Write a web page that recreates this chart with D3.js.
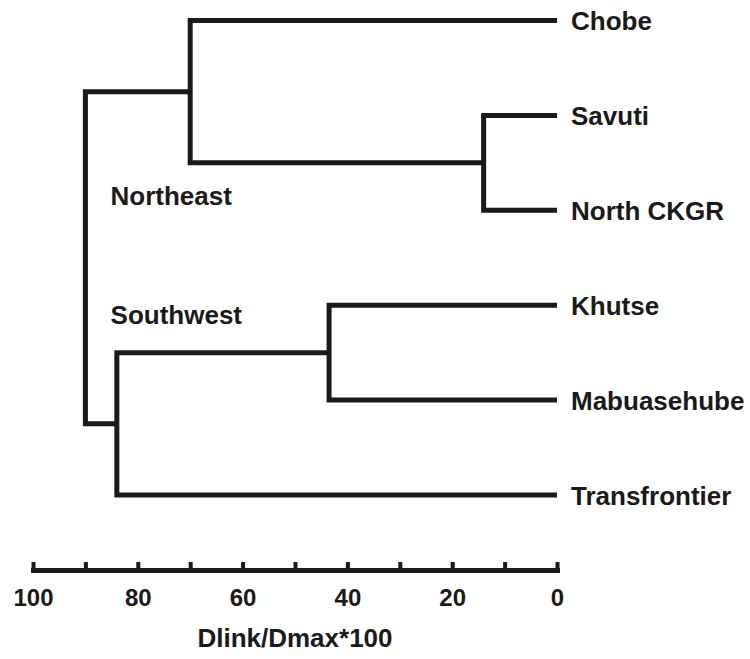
<!DOCTYPE html>
<html>
<head>
<meta charset="utf-8">
<script src="https://cdn.jsdelivr.net/npm/d3@7"></script>
<style>
	body { margin: 0; background: #fff; }
	svg text { font-family: "Liberation Sans", Arial, sans-serif; font-weight: bold; fill: #1a1a1a; }
</style>
</head>
<body>
<svg id="chart" width="750" height="659"></svg>
<script>
// leaves, top to bottom
var leaves = ["Chobe", "Savuti", "North CKGR", "Khutse", "Mabuasehube", "Transfrontier"];

// clusters: name, the two children, linkage distance (Dlink/Dmax*100)
var clusterNames = ["SN", "NE", "KM", "SW", "root"];
var clusterChildren = [["Savuti", "North CKGR"], ["Chobe", "SN"], ["Khutse", "Mabuasehube"], ["KM", "Transfrontier"], ["NE", "SW"]];
var clusterHeights = [14, 70, 43.5, 84, 90];

var groupLabels = ["Northeast", "Southwest"];

var tickValues = [100, 90, 80, 70, 60, 50, 40, 30, 20, 10, 0];
var tickLabels = [100, 80, 60, 40, 20, 0];
var axisTitle = "Dlink/Dmax*100";

var svg = d3.select("#chart");
var ink = "#1a1a1a";

var x = d3.scaleLinear().domain([100, 0]).range([33, 557]);
var y = d3.scalePoint().domain(leaves).range([20.5, 495]);

// build nested tree out of the cluster table
function build(name) {
	var i = clusterNames.indexOf(name);
	if(i < 0) {
		return {name: name, h: 0};
	}
	return {name: name, h: clusterHeights[i], children: clusterChildren[i].map(build)};
}

var root = d3.hierarchy(build("root"));

root.eachAfter(function(d) {
	if(d.children) {
		d.py = d3.mean(d.children, function(c) { return c.py; });
	} else {
		d.py = y(d.data.name);
	}
});

var links = svg.append("g")
	.attr("fill", "none")
	.attr("stroke", ink)
	.attr("stroke-width", 5)
	.attr("stroke-linejoin", "miter");

links.selectAll("path")
	.data(root.descendants().filter(function(d) { return d.children; }))
	.enter()
	.append("path")
		.attr("d", function(d) {
			var a = d.children[0], b = d.children[1];
			return "M" + x(a.data.h) + "," + a.py
				+ "H" + x(d.data.h)
				+ "V" + b.py
				+ "H" + x(b.data.h);
		});

svg.append("g").selectAll("text")
	.data(root.leaves())
	.enter()
	.append("text")
		.attr("x", function(d) { return x(0) + 14; })
		.attr("y", function(d) { return d.py; })
		.attr("dy", "0.38em")
		.style("font-size", "26px")
		.text(function(d) { return d.data.name; });

// cluster group annotations
svg.append("text")
	.attr("x", x(85.2))
	.attr("y", 205)
	.style("font-size", "26px")
	.text(groupLabels[0]);

svg.append("text")
	.attr("x", x(85.2))
	.attr("y", 324)
	.style("font-size", "26px")
	.text(groupLabels[1]);

// axis
var axis = d3.axisBottom(x)
	.tickValues(tickValues)
	.tickSizeInner(-8)
	.tickSizeOuter(0)
	.tickPadding(19)
	.tickFormat(function(d) { return tickLabels.indexOf(d) >= 0 ? d : ""; });

var ax = svg.append("g")
	.attr("transform", "translate(0,570)")
	.call(axis);

ax.select(".domain")
	.attr("stroke", ink)
	.attr("stroke-width", 5)
	.attr("stroke-linecap", "square");

ax.selectAll(".tick line")
	.attr("stroke", ink)
	.attr("stroke-width", 4);

ax.selectAll(".tick text")
	.attr("fill", ink)
	.style("font-size", "24px")
	.style("font-family", "'Liberation Sans', Arial, sans-serif")
	.style("font-weight", "bold");

svg.append("text")
	.attr("x", x(50))
	.attr("y", 647)
	.attr("text-anchor", "middle")
	.style("font-size", "26px")
	.text(axisTitle);
</script>
</body>
</html>
